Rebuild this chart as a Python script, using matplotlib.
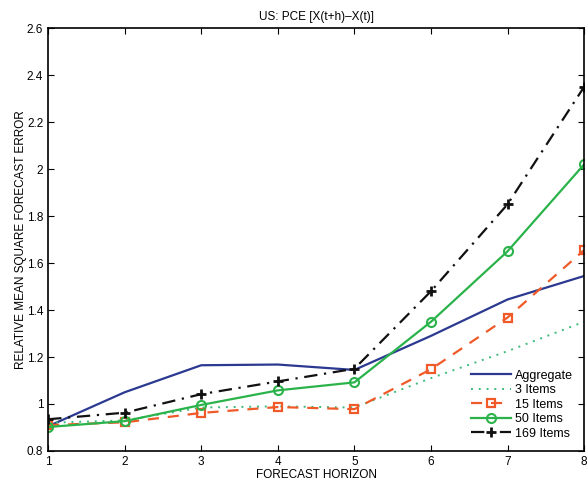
import matplotlib
matplotlib.use('Agg')
import matplotlib.pyplot as plt

plt.rcParams['font.family'] = ['Liberation Sans', 'DejaVu Sans']

horizon = [1, 2, 3, 4, 5, 6, 7, 8]
aggregate = [0.905, 1.05, 1.165, 1.168, 1.145, 1.29, 1.445, 1.545]
items_3 = [0.92, 0.93, 0.985, 0.99, 0.985, 1.11, 1.225, 1.35]
items_15 = [0.91, 0.922, 0.962, 0.987, 0.978, 1.148, 1.368, 1.655]
items_50 = [0.902, 0.927, 0.996, 1.058, 1.092, 1.35, 1.65, 2.02]
items_169 = [0.935, 0.963, 1.042, 1.096, 1.15, 1.48, 1.85, 2.35]

fig = plt.figure(figsize=(5.87, 4.87), dpi=100)
ax = fig.add_axes([0.082, 0.074, 0.913, 0.868])

ax.plot(horizon, aggregate, color='#2b3990', lw=1.6, label='Aggregate')
ax.plot(horizon, items_3, color='#3dba7a', lw=1.4, ls=(0, (1, 3)), label='3 Items')
ax.plot(horizon, items_15, color='#f05a28', lw=1.6, ls=(0, (5, 4)), marker='s', ms=6,
        mfc='none', mew=1.6, label='15 Items')
ax.plot(horizon, items_50, color='#2bb34b', lw=1.6, marker='o', ms=6.5,
        mfc='none', mew=1.5, label='50 Items')
ax.plot(horizon, items_169, color='#111111', lw=1.6, ls=(0, (6, 3, 1, 3)), marker='+', ms=7,
        mew=2, label='169 Items')

ax.set_xlim(1, 8)
ax.set_ylim(0.8, 2.6)
ax.set_xticks(horizon)
ax.set_yticks([0.8, 1, 1.2, 1.4, 1.6, 1.8, 2, 2.2, 2.4, 2.6])
ax.set_yticklabels(['0.8', '1', '1.2', '1.4', '1.6', '1.8', '2', '2.2', '2.4', '2.6'])
ax.tick_params(direction='in', labelsize=8.5, top=True, right=True, length=4)
for s in ax.spines.values():
    s.set_linewidth(1.2)

ax.set_title('US: PCE [X(t+h)\u2013X(t)]', fontsize=8.5, pad=6)
ax.set_xlabel('FORECAST HORIZON', fontsize=8.5, labelpad=1)
ax.set_ylabel('RELATIVE MEAN SQUARE FORECAST ERROR', fontsize=8.5, labelpad=0)
ax.legend(loc='lower right', frameon=False, fontsize=9, handlelength=3.2,
          labelspacing=0.2, handletextpad=0.3, borderaxespad=0.5)

fig.savefig('out.png', dpi=100)
